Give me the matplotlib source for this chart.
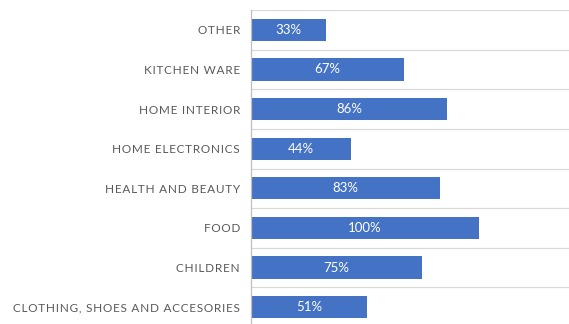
import matplotlib.pyplot as plt

# Share of shoppers per product category
categories = ['OTHER', 'KITCHEN WARE', 'HOME INTERIOR', 'HOME ELECTRONICS',
              'HEALTH AND BEAUTY', 'FOOD', 'CHILDREN', 'CLOTHING, SHOES AND ACCESORIES']
values = [33, 67, 86, 44, 83, 100, 75, 51]

plt.rcParams['font.family'] = ['Lato', 'DejaVu Sans']

fig = plt.figure(figsize=(5.69, 3.24), dpi=100)
ax = fig.add_axes([251 / 569, -3 / 324, 1 - 251 / 569, 317 / 324])

pos = list(range(len(categories)))
ax.barh(pos, values, height=0.56, color='#4472C4')

for p, v in zip(pos, values):
    ax.text(v / 2, p, f'{v}%', color='white', ha='center', va='center', fontsize=9.5)

# light separators between the category bands
for k in range(len(categories) + 1):
    ax.axhline(k - 0.5, color='#D9D9D9', linewidth=0.9, zorder=0)

ax.set_ylim(len(categories) - 0.5, -0.5)
ax.set_xlim(0, 139.5)

# spread the letters out a little, like the original labels
spaced = ['\u200a'.join(c) for c in categories]
ax.set_yticks(pos)
ax.set_yticklabels(spaced, color='#595959', fontsize=8.5)
ax.tick_params(axis='y', length=0, pad=8)
ax.set_xticks([])

for s in ['top', 'right', 'bottom']:
    ax.spines[s].set_visible(False)
ax.spines['left'].set_color('#BFBFBF')
ax.spines['left'].set_linewidth(0.9)

fig.savefig('out.png', dpi=100)
